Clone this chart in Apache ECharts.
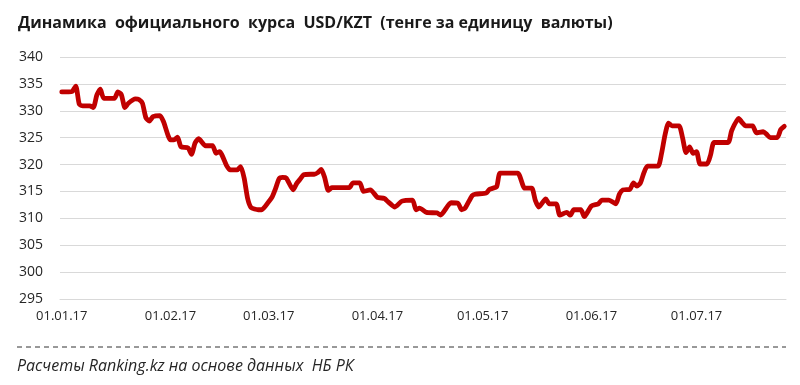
<!DOCTYPE html>
<html>
<head>
<meta charset="utf-8">
<script src="https://cdn.jsdelivr.net/npm/echarts@6/dist/echarts.min.js"></script>
<style>
html,body{margin:0;padding:0;background:#fff;}
#c{width:800px;height:385px;}
</style>
</head>
<body>
<div id="c"></div>
<script>
// Calendar range of the x axis (one category per day)
const startDate = '2017-01-01';
const endDate = '2017-07-26';

// Official USD/KZT rate readings (date MM-DD in 2017, value in tenge)
const pointDates = [
 '01-01','01-03','01-04','01-05','01-06','01-07','01-09','01-10','01-11','01-12',
 '01-13','01-16','01-17','01-18','01-19','01-20','01-22','01-23','01-24','01-25',
 '01-26','01-27','01-29','01-30','02-01','02-02','02-03','02-04','02-06','02-07',
 '02-08','02-09','02-11','02-13','02-14','02-15','02-17','02-18','02-20','02-21',
 '02-22','02-23','02-24','02-26','02-27','03-01','03-02','03-03','03-04','03-05',
 '03-06','03-08','03-09','03-10','03-11','03-13','03-14','03-15','03-16','03-17',
 '03-18','03-19','03-24','03-25','03-27','03-28','03-30','04-01','04-03','04-04',
 '04-06','04-08','04-11','04-12','04-13','04-15','04-18','04-19','04-22','04-24',
 '04-25','04-26','04-28','04-29','05-02','05-03','05-05','05-06','05-11','05-13',
 '05-15','05-16','05-17','05-19','05-20','05-22','05-23','05-25','05-26','05-27',
 '05-29','05-30','06-01','06-03','06-04','06-06','06-08','06-09','06-10','06-12',
 '06-13','06-14','06-15','06-16','06-17','06-20','06-21','06-22','06-23','06-24',
 '06-26','06-27','06-28','06-29','06-30','07-01','07-02','07-04','07-05','07-06',
 '07-10','07-11','07-13','07-14','07-15','07-17','07-18','07-20','07-21','07-22',
 '07-24','07-25','07-26'
];
const pointValues = [
 333.5,333.5,333.6,334.6,331.2,330.9,330.9,330.6,332.9,334.0,
 332.3,332.3,333.5,333.0,330.6,331.4,332.2,332.1,331.4,328.7,
 328.1,328.9,329.1,328.0,324.6,324.6,325.1,323.3,323.1,321.9,
 324.0,324.8,323.5,323.5,322.1,322.4,319.8,319.0,319.0,319.6,
 317.5,313.7,312.0,311.6,311.6,313.1,314.0,315.6,317.4,317.6,
 317.5,315.3,316.5,317.3,318.1,318.2,318.2,318.5,319.1,317.5,
 315.2,315.7,315.7,316.6,316.6,315.0,315.3,313.9,313.7,313.1,
 312.1,313.2,313.4,311.6,311.9,311.1,311.0,310.6,312.9,312.8,
 311.6,311.9,314.2,314.5,314.7,315.4,315.9,318.4,318.4,315.6,
 315.6,313.4,312.1,313.6,312.7,312.7,310.6,311.1,310.6,311.6,
 311.6,310.3,312.3,312.7,313.4,313.4,312.7,314.5,315.3,315.4,
 316.6,316.0,316.6,318.5,319.7,319.7,322.0,325.5,327.7,327.2,
 327.2,325.0,322.2,323.3,322.1,322.4,320.1,320.1,321.8,324.1,
 324.1,326.3,328.6,327.8,327.2,327.2,325.9,326.1,325.6,325.0,
 325.0,326.5,327.1
];

// Y axis range and step
const yMin = 295, yMax = 340, yStep = 5;

const titleText = 'Динамика  официального  курса  USD/KZT  (тенге за единицу  валюты)';
const sourceText = 'Расчеты Ranking.kz на основе данных  НБ РК';

function pad(n){ return (n < 10 ? '0' : '') + n; }
const categories = [];
const keyIndex = {};
(function(){
  const d = new Date(startDate + 'T00:00:00Z');
  const e = new Date(endDate + 'T00:00:00Z');
  while (d <= e) {
    const mm = pad(d.getUTCMonth() + 1), dd = pad(d.getUTCDate());
    keyIndex[mm + '-' + dd] = categories.length;
    categories.push(dd + '.' + mm + '.' + String(d.getUTCFullYear()).slice(2));
    d.setUTCDate(d.getUTCDate() + 1);
  }
})();
const seriesData = categories.map(() => null);
pointDates.forEach((k, i) => { seriesData[keyIndex[k]] = pointValues[i]; });

const chart = echarts.init(document.getElementById('c'), null, {renderer: 'canvas'});
const FONT = '"Open Sans", "Noto Sans", sans-serif';
chart.setOption({
  animation: false,
  backgroundColor: '#fff',
  title: {
    text: titleText,
    left: 13, top: 10,
    textStyle: {fontFamily: FONT, fontSize: 16, fontWeight: 'bold', color: '#1a1a1a'}
  },
  grid: {left: 60, right: 14, top: 57, bottom: 86, containLabel: false},
  xAxis: {
    type: 'category',
    data: categories,
    boundaryGap: true,
    axisLine: {show: true, lineStyle: {color: '#d9d9d9', width: 1}},
    axisTick: {show: false},
    splitLine: {show: false},
    axisLabel: {
      interval: (idx, val) => val.slice(0, 2) === '01',
      fontFamily: FONT, fontSize: 13, color: '#262626', margin: 11
    }
  },
  yAxis: {
    type: 'value',
    min: yMin, max: yMax, interval: yStep,
    axisLine: {show: false},
    axisTick: {show: false},
    splitLine: {lineStyle: {color: '#d9d9d9', width: 1}},
    axisLabel: {fontFamily: FONT, fontSize: 14, color: '#262626', margin: 17}
  },
  series: [{
    type: 'line',
    data: seriesData,
    connectNulls: true,
    showSymbol: false,
    symbol: 'none',
    smooth: 0.2,
    lineStyle: {color: '#C00000', width: 4.8, cap: 'round', join: 'round'}
  }],
  graphic: [
    {type: 'line', shape: {x1: 17, y1: 347, x2: 786, y2: 347},
     style: {stroke: '#333', lineWidth: 1, lineDash: [5, 4]}},
    {type: 'text', left: 17, top: 358,
     style: {text: sourceText, fontFamily: FONT, fontSize: 16, fontStyle: 'italic', fill: '#262626'}}
  ]
});
</script>
</body>
</html>
